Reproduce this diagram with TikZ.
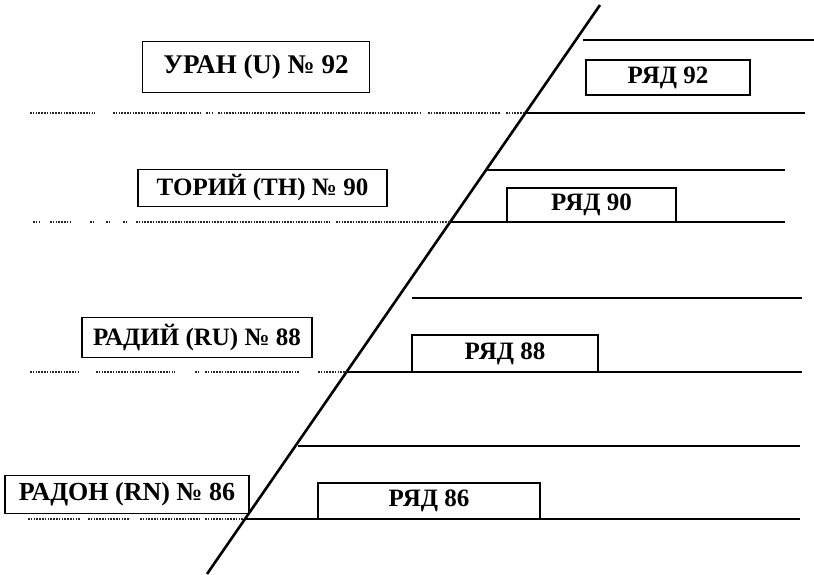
\documentclass[tikz,border=0pt]{standalone}
\usepackage{fontspec}
\setmainfont{Liberation Serif}
\begin{document}
\begin{tikzpicture}[x=1pt,y=-1pt,
  elbox/.style={draw,line width=1.9pt,inner sep=0pt},
  rowbox/.style={draw,line width=1.7pt,inner sep=0pt,font=\bfseries\fontsize{25}{27}\selectfont},
  shelf/.style={line width=2pt},
  dots/.style={line width=1.8pt,dash pattern=on 1.6pt off 1.2pt,black!85},
  diag/.style={line width=2.6pt}]
\useasboundingbox (0,0) rectangle (814,574);
% diagonal
\coordinate (dtop) at (600,5);
\coordinate (dbot) at (207,574);
\draw[diag] (dtop) -- (dbot);
% shelves (solid lines)
\coordinate (a1) at (583,40);   \coordinate (b1) at (814,40);
\coordinate (a2) at (525,113);  \coordinate (b2) at (805,113);
\coordinate (a3) at (487,170);  \coordinate (b3) at (785,170);
\coordinate (a4) at (450,222);  \coordinate (b4) at (785,222);
\coordinate (a5) at (412,298);  \coordinate (b5) at (802,298);
\coordinate (a6) at (347,372);  \coordinate (b6) at (802,372);
\coordinate (a7) at (298,446);  \coordinate (b7) at (800,446);
\coordinate (a8) at (244,519);  \coordinate (b8) at (800,519);
\foreach \i in {1,...,8} \draw[shelf] (a\i) -- (b\i);
% dotted lines on the left
\foreach \s/\e in {30/95,113/200,206/212,218/420,428/500,506/525}
  \draw[dots] (\s,113) -- (\e,113);
\foreach \s/\e in {33/40,50/70,90/93,106/109,123/126,136/330,336/450}
  \draw[dots] (\s,222) -- (\e,222);
\foreach \s/\e in {30/80,96/175,195/200,205/300,318/347}
  \draw[dots] (\s,372) -- (\e,372);
\foreach \s/\e in {28/80,88/130,140/200,205/244}
  \draw[dots] (\s,519) -- (\e,519);
% element boxes
\node[elbox,minimum width=227pt,minimum height=51pt,font=\bfseries\fontsize{27}{29}\selectfont] (u92) at (256,67) {УРАН (U) № 92};
\node[elbox,minimum width=249pt,minimum height=37pt,font=\bfseries\fontsize{25}{27}\selectfont] (th90) at (262.5,188) {ТОРИЙ (TH) № 90};
\node[elbox,minimum width=230pt,minimum height=40pt,font=\bfseries\fontsize{25}{27}\selectfont] (ru88) at (197,337.5) {РАДИЙ (RU) № 88};
\node[elbox,minimum width=244pt,minimum height=38pt,font=\bfseries\fontsize{26}{28}\selectfont] (rn86) at (127,494.5) {РАДОН (RN) № 86};
% row boxes
\node[rowbox,minimum width=164pt,minimum height=35pt] (r92) at (668,77.5) {РЯД 92};
\node[rowbox,minimum width=169pt,minimum height=34pt] (r90) at (591.5,205) {РЯД 90};
\node[rowbox,minimum width=186pt,minimum height=37pt] (r88) at (505,353.5) {РЯД 88};
\node[rowbox,minimum width=222pt,minimum height=36pt] (r86) at (429,501) {РЯД 86};
\end{tikzpicture}
\end{document}
